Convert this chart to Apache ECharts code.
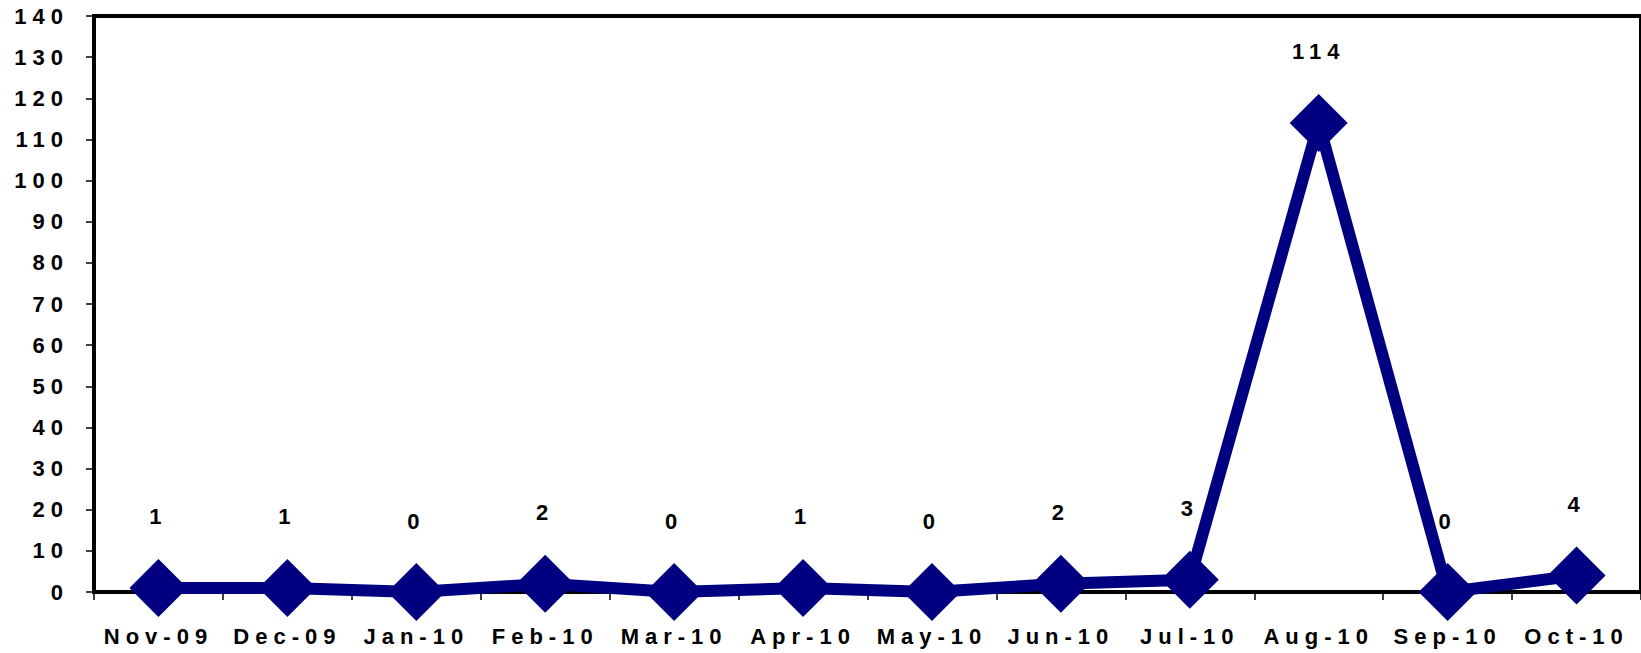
<!DOCTYPE html>
<html>
<head>
<meta charset="utf-8">
<title>Monthly count, Nov-09 to Oct-10</title>
<script src="https://cdn.jsdelivr.net/npm/echarts@6/dist/echarts.min.js"></script>
<style>
  html, body { margin: 0; padding: 0; background: #fff; }
  #chart { width: 1641px; height: 653px; }
  /* wide tracking on every label, as in the printed report style */
  #chart svg text { letter-spacing: 6px; }
</style>
</head>
<body>
<div id="chart"></div>
<script>
// Months shown along the horizontal axis
const months = ['Nov-09', 'Dec-09', 'Jan-10', 'Feb-10', 'Mar-10', 'Apr-10',
                'May-10', 'Jun-10', 'Jul-10', 'Aug-10', 'Sep-10', 'Oct-10'];
// Count recorded for each month
const counts = [1, 1, 0, 2, 0, 1, 0, 2, 3, 114, 0, 4];
// Vertical scale
const yMin = 0;
const yMax = 140;
const yStep = 10;

const FONT = '"Liberation Sans", Arial, Helvetica, sans-serif';
const NAVY = '#000080';

const chart = echarts.init(document.getElementById('chart'), null, { renderer: 'svg' });

chart.setOption({
  animation: false,
  backgroundColor: '#fff',
  grid: {
    left: 94,
    right: -5,
    top: 16,
    bottom: 61,
    show: true,
    borderColor: '#000',
    borderWidth: 4,
    backgroundColor: 'transparent'
  },
  xAxis: {
    type: 'category',
    data: months,
    boundaryGap: true,
    axisLine: { show: true, lineStyle: { color: '#000', width: 4 } },
    axisTick: { show: true, alignWithLabel: false, interval: 0, length: 8,
                lineStyle: { color: '#000', width: 1.5 } },
    axisLabel: { interval: 0, margin: 33, color: '#000', fontFamily: FONT,
                 fontWeight: 'bold', fontSize: 22 },
    splitLine: { show: false }
  },
  yAxis: {
    type: 'value',
    min: yMin,
    max: yMax,
    interval: yStep,
    axisLine: { show: true, lineStyle: { color: '#000', width: 4 } },
    axisTick: { show: true, length: 8, lineStyle: { color: '#000', width: 1.5 } },
    axisLabel: { margin: 25, color: '#000', fontFamily: FONT,
                 fontWeight: 'bold', fontSize: 22 },
    splitLine: { show: false }
  },
  series: [{
    type: 'line',
    data: counts,
    symbol: 'diamond',
    symbolSize: 58,
    lineStyle: { color: NAVY, width: 12 },
    itemStyle: { color: NAVY },
    label: {
      show: true,
      position: 'top',
      distance: 31,
      color: '#000',
      fontFamily: FONT,
      fontWeight: 'bold',
      fontSize: 22
    },
    z: 3
  }]
});
</script>
</body>
</html>
